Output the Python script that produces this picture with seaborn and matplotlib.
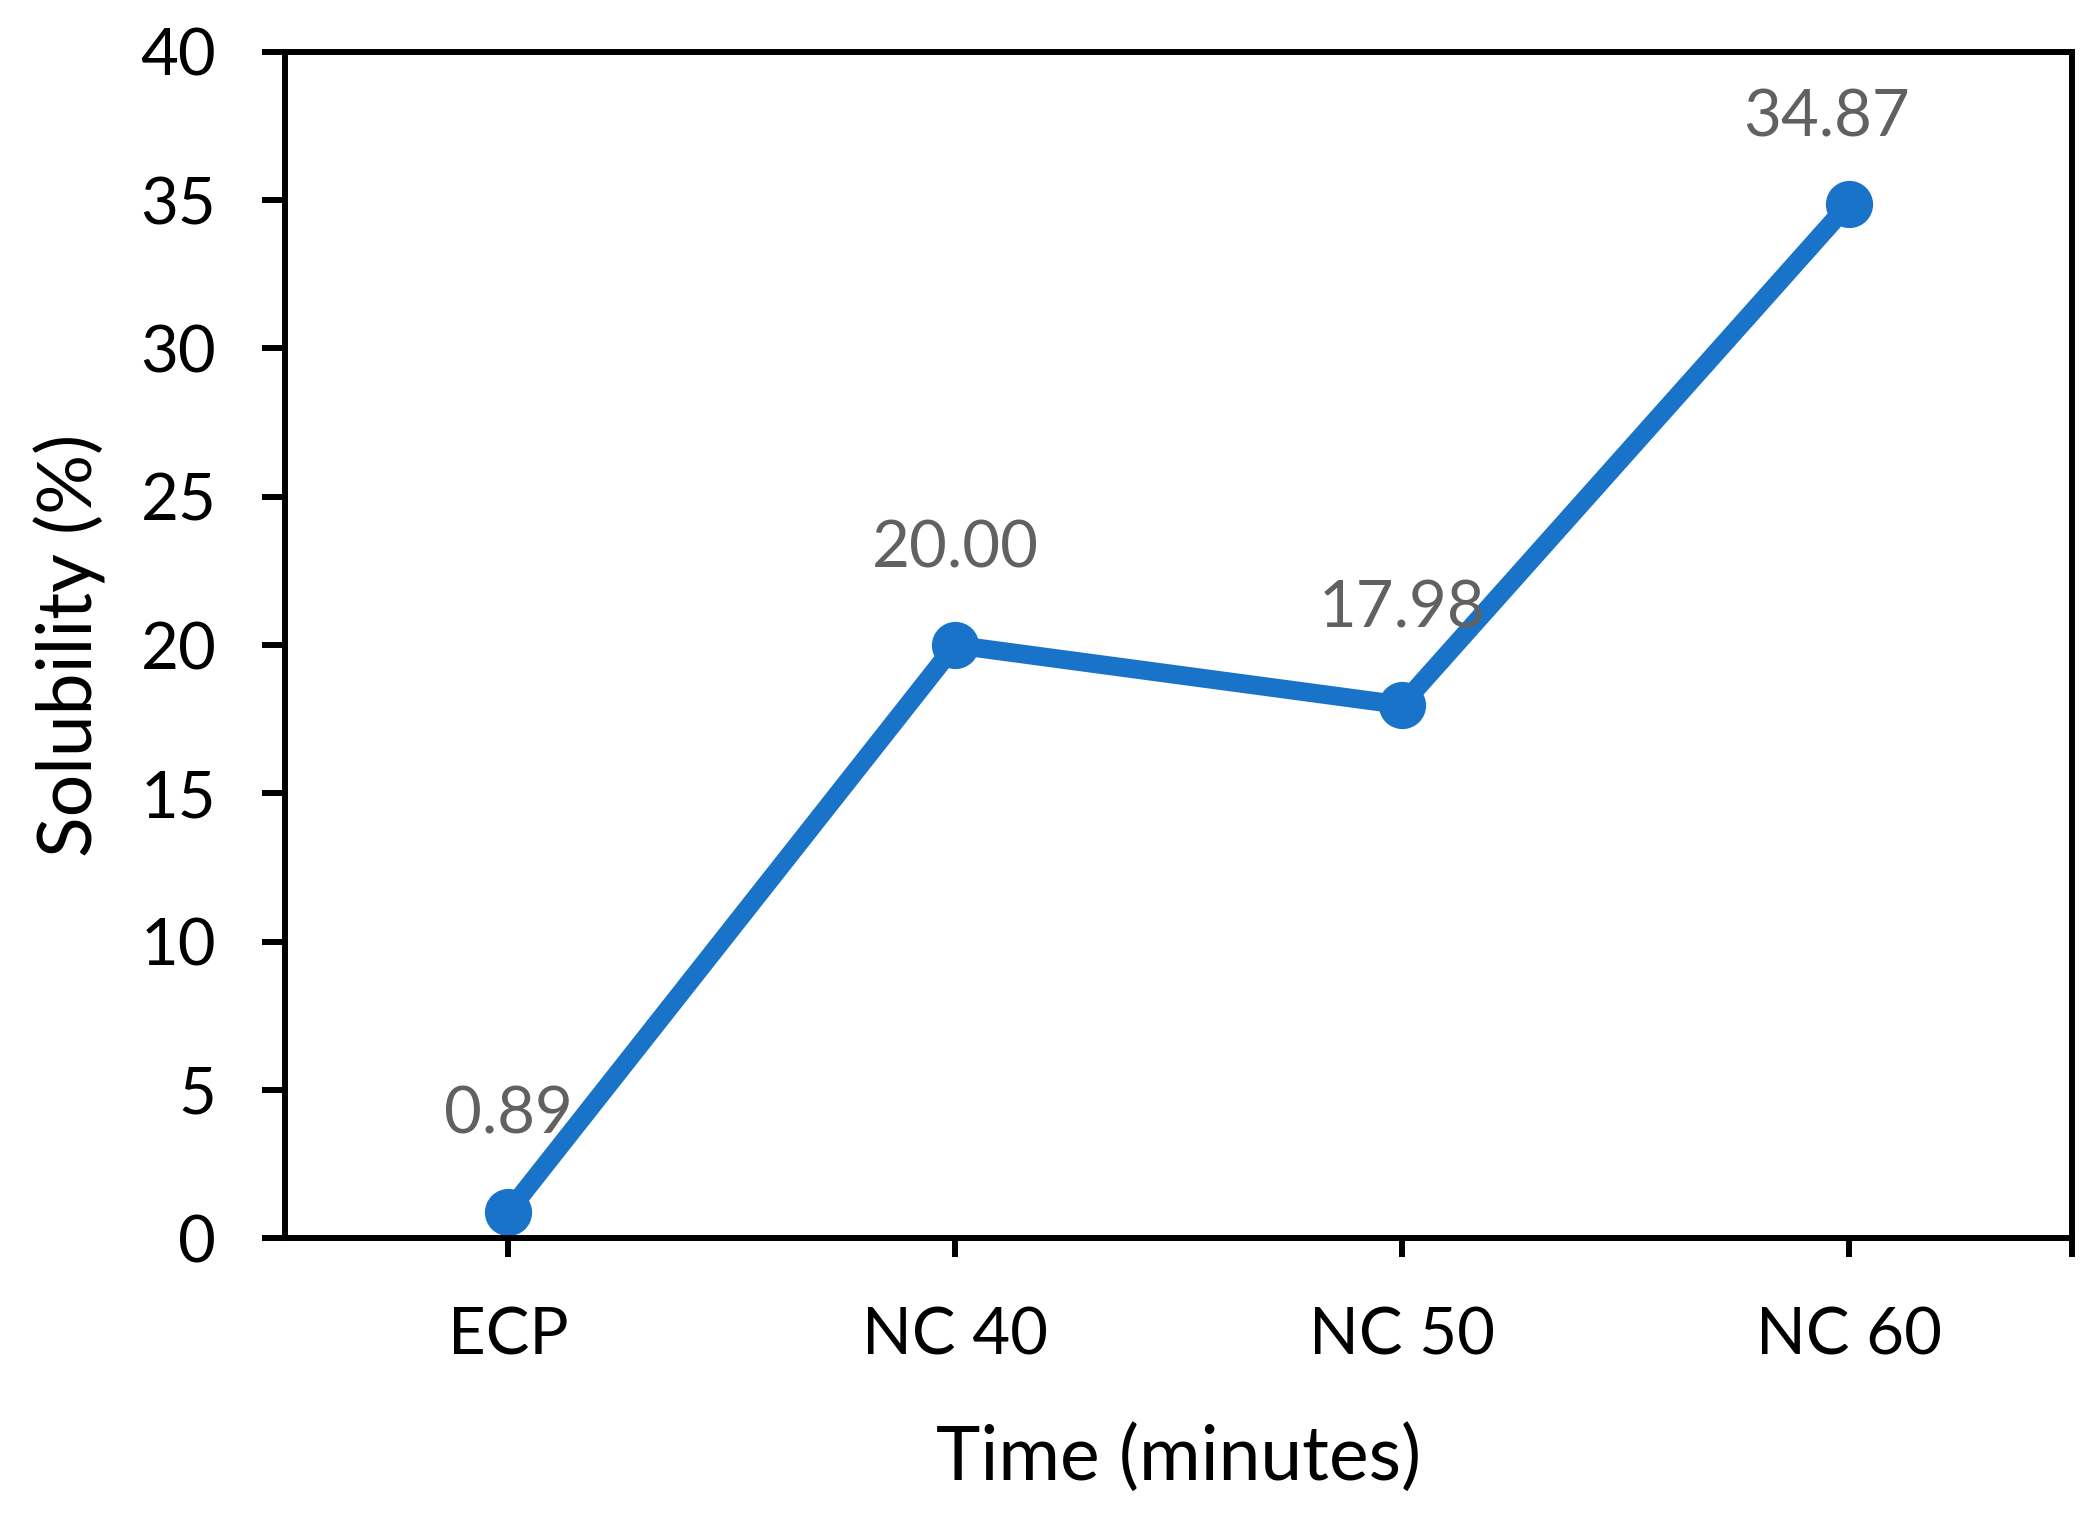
import matplotlib
matplotlib.use('Agg')
import matplotlib.pyplot as plt
import seaborn as sns
import pandas as pd
from matplotlib.ticker import FixedLocator

# data
groups = ['ECP', 'NC 40', 'NC 50', 'NC 60']
solubility = [0.89, 20.00, 17.98, 34.87]
y_ticks = [0, 5, 10, 15, 20, 25, 30, 35, 40]

blue = '#1873c9'
grey = '#616161'

sns.set_style('ticks')
plt.rcParams['font.family'] = ['Lato', 'DejaVu Sans']
plt.rcParams['text.color'] = 'black'
plt.rcParams['axes.labelcolor'] = 'black'
plt.rcParams['xtick.color'] = 'black'
plt.rcParams['ytick.color'] = 'black'

fig = plt.figure(figsize=(20.99, 15.15), dpi=100)
ax = fig.add_axes([0.1358, 0.1828, 0.8513, 0.7829])

df = pd.DataFrame({'group': groups, 'solubility': solubility})
sns.lineplot(data=df, x='group', y='solubility', ax=ax, sort=False,
             color=blue, linewidth=13.5, marker='o', markersize=34,
             markeredgewidth=0)

# value labels above points (last one nudged like in the original)
for i, v in enumerate(solubility):
    dx, dy = (0, 56) if i < len(solubility) - 1 else (-16, 49)
    ax.annotate(f'{v:.2f}', (i, v), xytext=(dx, dy), textcoords='offset points',
                ha='center', va='baseline', fontsize=47, color=grey)

ax.set_xlim(-0.5, len(groups) - 0.5)
ax.set_ylim(0, 40)
ax.set_yticks(y_ticks)
ax.xaxis.set_minor_locator(FixedLocator([len(groups) - 0.5]))

for s in ax.spines.values():
    s.set_visible(True)
    s.set_linewidth(4.3)
    s.set_color('black')

ax.tick_params(axis='y', direction='out', length=16.5, width=4.3, pad=33,
               labelsize=47, color='black', labelcolor='black')
ax.tick_params(axis='x', which='both', direction='out', length=14, width=4.3,
               pad=35, labelsize=47, color='black', labelcolor='black')
ax.tick_params(axis='x', which='minor', labelbottom=False)

ax.set_xlabel('Time (minutes)', fontsize=54, color='black')
ax.set_ylabel('Solubility (%)', fontsize=54, color='black')
ax.xaxis.set_label_coords(0.5, -0.185)
ax.yaxis.set_label_coords(-0.1203, 0.5)
ax.xaxis.label.set_va('center')
ax.yaxis.label.set_va('center')

fig.savefig('out.png', dpi=100)
